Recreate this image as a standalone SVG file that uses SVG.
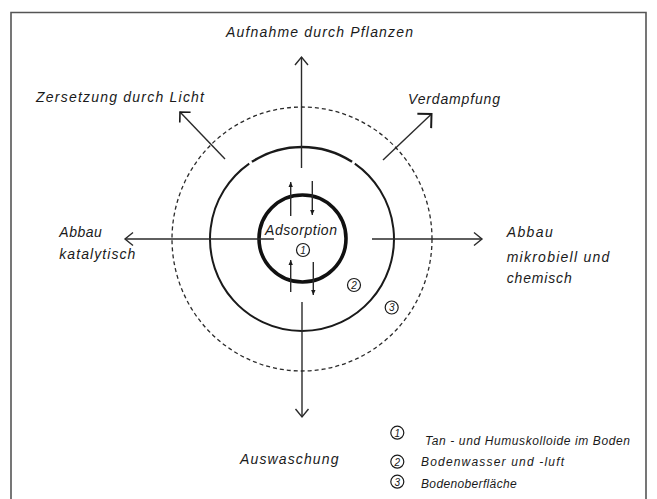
<svg xmlns="http://www.w3.org/2000/svg" width="657" height="499" viewBox="0 0 657 499">
<style>
.t{font-family:"Liberation Sans",Arial,sans-serif;font-style:italic;font-size:14px;fill:#1a1a1a}
.s{font-size:12px}
.n{font-family:"Liberation Sans",Arial,sans-serif;font-style:italic;font-size:10px;fill:#1a1a1a;text-anchor:middle}
.ln{fill:none;stroke:#2a2a2a;stroke-width:1.4}
.nc{fill:none;stroke:#1a1a1a;stroke-width:1.2}
</style>
<defs>
<marker id="chev" viewBox="-10 -8 12 16" refX="0" refY="0" markerWidth="12" markerHeight="16" orient="auto" markerUnits="userSpaceOnUse"><path d="M-8,-6.5 L0,0 L-8,6.5" fill="none" stroke="#2a2a2a" stroke-width="1.4"/></marker>
<marker id="chev2" viewBox="-12 -12 14 24" refX="0" refY="0" markerWidth="14" markerHeight="24" orient="auto" markerUnits="userSpaceOnUse"><path d="M-7.5,-7.5 L0,0 L-7.5,7.5" fill="none" stroke="#1a1a1a" stroke-width="1.6"/></marker>
<marker id="chev3" viewBox="-14 -14 16 28" refX="0" refY="0" markerWidth="16" markerHeight="28" orient="auto" markerUnits="userSpaceOnUse"><path d="M-10,-10 L0,0 L-10,10" fill="none" stroke="#1a1a1a" stroke-width="2"/></marker>
<marker id="dart" viewBox="-6 -3 7 6" refX="0" refY="0" markerWidth="7" markerHeight="6" orient="auto" markerUnits="userSpaceOnUse"><path d="M-5,-2.2 L0,0 L-5,2.2 Z" fill="#1a1a1a"/></marker>
</defs>
<rect x="0" y="0" width="657" height="499" fill="#fff"/>
<g id="frame"><path d="M11,505 L11,12.5 L646,12.5 L646,505" fill="none" stroke="#555" stroke-width="1.6"/></g>

<g id="zone3"><ellipse cx="302" cy="239" rx="130" ry="132" fill="none" stroke="#2a2a2a" stroke-width="1.3" stroke-dasharray="4 3"/></g>
<g id="zone2">
<path d="M251.9,161.8 A92,92 0 0 1 352.1,161.8" fill="none" stroke="#1a1a1a" stroke-width="2.4"/>
<path d="M354.8,163.6 A92,92 0 1 1 249.2,163.6" fill="none" stroke="#1a1a1a" stroke-width="2"/>
</g>
<g id="zone1"><circle cx="302.5" cy="238.5" r="43.5" fill="none" stroke="#111" stroke-width="3.6"/></g>

<g id="connectors">
<path class="ln" d="M301.5,168 L301.5,57" marker-end="url(#chev)"/>
<path class="ln" d="M302,302 L302,417" marker-end="url(#chev)"/>
<path class="ln" d="M274,239 L125,239" marker-end="url(#chev)"/>
<path class="ln" d="M372,239 L482,239" marker-end="url(#chev)"/>
<path class="ln" d="M225,159 L180,112" marker-end="url(#chev2)" stroke-width="1.6"/>
<path class="ln" d="M383,160 L431.5,114" marker-end="url(#chev3)" stroke-width="2"/>
<path class="ln" d="M290.7,216 L290.7,182" marker-end="url(#dart)"/>
<path class="ln" d="M312.3,181 L312.3,215" marker-end="url(#dart)"/>
<path class="ln" d="M290.7,292 L290.7,260" marker-end="url(#dart)"/>
<path class="ln" d="M313.3,262 L313.3,295" marker-end="url(#dart)"/>
</g>

<g id="label-aufnahme"><text class="t" x="226" y="36.7" textLength="187" lengthAdjust="spacing">Aufnahme durch Pflanzen</text></g>
<g id="label-zersetzung"><text class="t" x="36" y="101.7" textLength="168" lengthAdjust="spacing">Zersetzung durch Licht</text></g>
<g id="label-verdampfung"><text class="t" x="408" y="104" textLength="92" lengthAdjust="spacing">Verdampfung</text></g>
<g id="label-abbau-kat"><text class="t" x="59.3" y="237.3" textLength="42.5" lengthAdjust="spacing">Abbau</text><text class="t" x="59.3" y="259.3" textLength="76" lengthAdjust="spacing">katalytisch</text></g>
<g id="label-abbau-mik"><text class="t" x="506.7" y="237.3" textLength="46" lengthAdjust="spacing">Abbau</text><text class="t" x="506.7" y="261.7" textLength="102.6" lengthAdjust="spacing">mikrobiell und</text><text class="t" x="506.7" y="282.7" textLength="65" lengthAdjust="spacing">chemisch</text></g>
<g id="label-adsorption"><text class="t" x="265" y="235" textLength="72" lengthAdjust="spacing">Adsorption</text></g>
<g id="label-auswaschung"><text class="t" x="240" y="464" textLength="98.5" lengthAdjust="spacing">Auswaschung</text></g>

<g id="num-1"><circle class="nc" cx="303" cy="250" r="6.5"/><text class="n" x="303" y="253.8">1</text></g>
<g id="num-2"><circle class="nc" cx="354" cy="285" r="6.5"/><text class="n" x="354" y="288.8">2</text></g>
<g id="num-3"><circle class="nc" cx="391.7" cy="307.5" r="6.5"/><text class="n" x="391.7" y="311.3">3</text></g>

<g id="legend">
<circle class="nc" cx="397.3" cy="432.7" r="6.5"/><text class="n" x="397.3" y="436.5">1</text>
<text class="t s" x="425" y="444.5" textLength="205" lengthAdjust="spacing">Tan - und Humuskolloide im Boden</text>
<circle class="nc" cx="397.3" cy="461.7" r="6.5"/><text class="n" x="397.3" y="465.5">2</text>
<text class="t s" x="421" y="466" textLength="143" lengthAdjust="spacing">Bodenwasser und -luft</text>
<circle class="nc" cx="397.3" cy="481.7" r="6.5"/><text class="n" x="397.3" y="485.5">3</text>
<text class="t s" x="421" y="487.5" textLength="95.7" lengthAdjust="spacing">Bodenoberfläche</text>
</g>
</svg>
